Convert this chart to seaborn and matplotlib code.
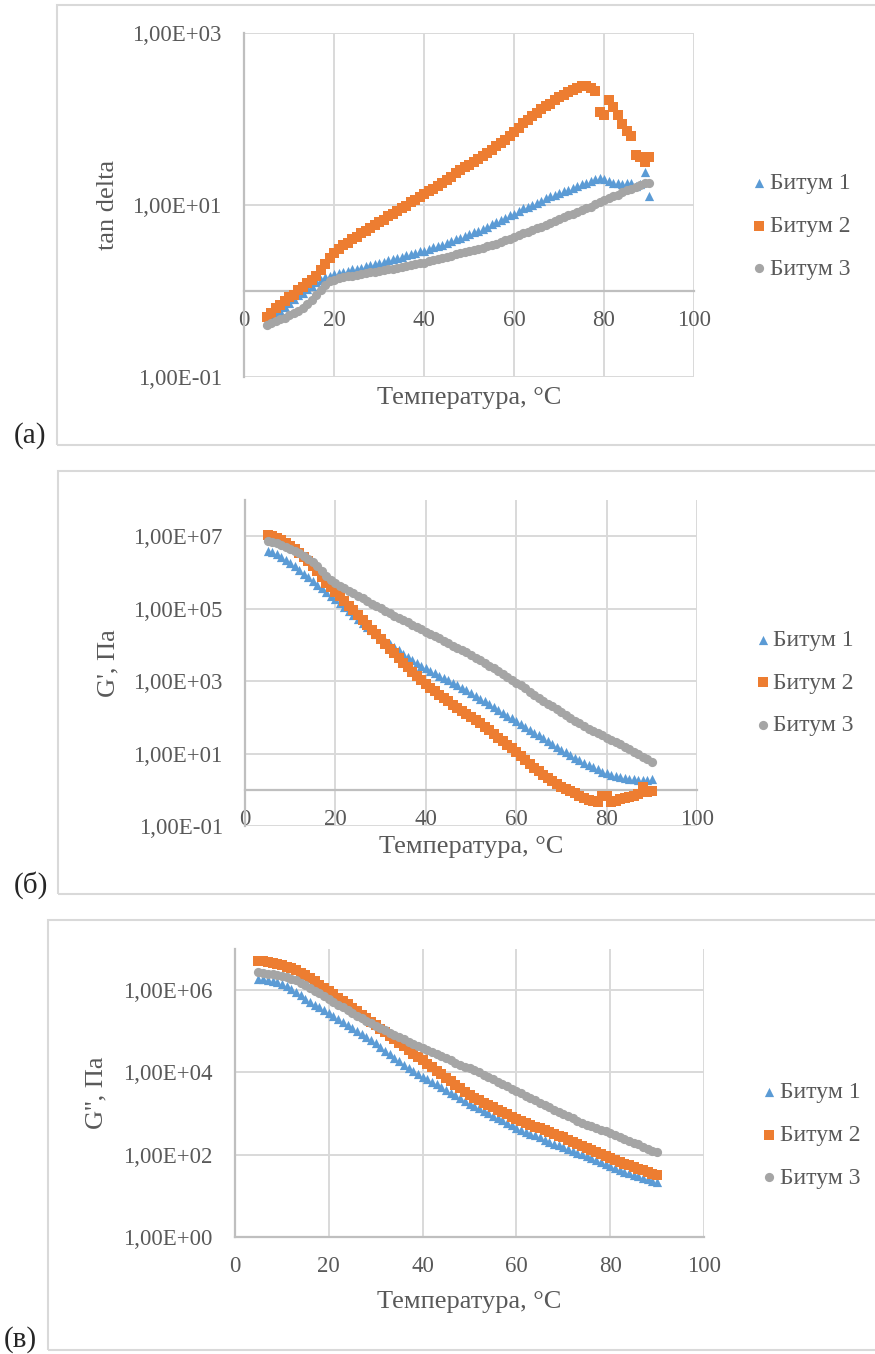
import matplotlib
matplotlib.use("Agg")
import matplotlib.pyplot as plt
import seaborn as sns
from matplotlib.patches import Rectangle
from matplotlib.ticker import FixedLocator, FuncFormatter, NullLocator

# measurement temperatures, °C (one point per degree)
temperature = list(range(5, 91))
series_names = ["Битум 1", "Битум 2", "Битум 3"]
series_colors = ["#5B9BD5", "#ED7D31", "#A5A5A5"]
series_markers = ["^", "s", "o"]
series_sizes = [44, 50, 44]

# (a) tan delta
tan_delta_1 = [0.44, 0.48, 0.52, 0.58, 0.65, 0.72, 0.81, 0.89, 0.95, 1.05,
               1.15, 1.26, 1.35, 1.45, 1.51, 1.58, 1.62, 1.66, 1.70, 1.78,
               1.82, 1.86, 1.95, 2.00, 2.04, 2.14, 2.19, 2.29, 2.34, 2.40,
               2.51, 2.63, 2.69, 2.75, 2.88, 2.95, 3.09, 3.24, 3.31, 3.47,
               3.63, 3.80, 3.98, 4.17, 4.37, 4.57, 4.79, 5.01, 5.25, 5.62,
               6.03, 6.31, 6.76, 7.08, 7.59, 7.94, 8.51, 9.12, 9.55, 10.0,
               10.5, 11.2, 12.0, 12.6, 13.2, 13.8, 14.5, 15.1, 15.8, 16.6,
               17.4, 18.2, 19.1, 20.0, 20.4, 20.0, 19.1, 18.2, 17.8, 17.4,
               18.2, 17.8, 16.6, 17.4, 24.5, 12.6]
tan_delta_2 = [0.50, 0.55, 0.63, 0.69, 0.76, 0.85, 0.91, 1.02, 1.12, 1.23,
               1.35, 1.51, 1.74, 2.04, 2.45, 2.75, 3.09, 3.39, 3.63, 3.98,
               4.27, 4.68, 5.01, 5.37, 5.89, 6.31, 6.76, 7.41, 7.94, 8.51,
               9.12, 9.77, 10.7, 11.5, 12.3, 13.5, 14.5, 15.5, 16.6, 18.2,
               19.5, 21.4, 23.4, 25.7, 27.5, 29.5, 31.6, 34.7, 37.2, 40.7,
               43.7, 47.9, 52.5, 57.5, 63.1, 70.8, 79.4, 89.1, 97.7, 107,
               117, 129, 141, 151, 166, 182, 191, 204, 219, 229,
               240, 240, 229, 214, 120, 110, 166, 138, 112, 87.1,
               72.4, 63.1, 38.0, 36.3, 31.6, 36.3]
tan_delta_3 = [0.40, 0.43, 0.45, 0.47, 0.49, 0.52, 0.55, 0.59, 0.63, 0.71,
               0.79, 0.89, 1.02, 1.17, 1.29, 1.35, 1.41, 1.45, 1.48, 1.51,
               1.55, 1.58, 1.62, 1.66, 1.66, 1.70, 1.74, 1.78, 1.82, 1.86,
               1.91, 1.95, 2.00, 2.04, 2.09, 2.14, 2.24, 2.29, 2.34, 2.45,
               2.51, 2.57, 2.69, 2.75, 2.82, 2.88, 3.02, 3.09, 3.16, 3.31,
               3.47, 3.55, 3.72, 3.89, 4.07, 4.27, 4.47, 4.68, 4.90, 5.13,
               5.37, 5.62, 5.89, 6.17, 6.46, 6.92, 7.24, 7.59, 7.94, 8.32,
               8.71, 9.12, 9.55, 10.2, 10.7, 11.5, 12.0, 12.6, 13.2, 14.1,
               14.8, 15.5, 16.2, 17.0, 17.8, 18.2]

# (б) G', Pa
storage_1 = [3.98e6, 3.63e6, 3.16e6, 2.69e6, 2.24e6, 1.82e6, 1.48e6, 1.17e6, 9.33e5, 7.41e5,
             5.89e5, 4.57e5, 3.63e5, 2.88e5, 2.29e5, 1.82e5, 1.45e5, 1.12e5, 8.71e4, 6.76e4,
             5.25e4, 4.07e4, 3.16e4, 2.51e4, 2.00e4, 1.58e4, 1.29e4, 1.05e4, 8.51e3, 7.08e3,
             5.75e3, 4.68e3, 3.89e3, 3.24e3, 2.69e3, 2.29e3, 1.95e3, 1.66e3, 1.41e3, 1.23e3,
             1.05e3, 912, 776, 661, 562, 479, 398, 331, 275, 229,
             195, 162, 135, 112, 93.3, 77.6, 64.6, 53.7, 45.7, 38.0,
             31.6, 26.3, 21.9, 18.2, 15.1, 12.9, 10.7, 9.12, 7.59, 6.46,
             5.50, 4.79, 4.17, 3.63, 3.16, 2.88, 2.63, 2.45, 2.29, 2.14,
             2.04, 1.95, 1.86, 1.82, 1.91, 2.00]
storage_2 = [1.10e7, 1.00e7, 8.91e6, 7.76e6, 6.61e6, 5.50e6, 4.47e6, 3.55e6, 2.75e6, 2.04e6,
             1.51e6, 1.07e6, 7.41e5, 5.25e5, 3.89e5, 2.95e5, 2.19e5, 1.62e5, 1.20e5, 8.91e4,
             6.61e4, 4.79e4, 3.55e4, 2.63e4, 1.95e4, 1.45e4, 1.07e4, 7.94e3, 5.89e3, 4.37e3,
             3.24e3, 2.40e3, 1.78e3, 1.35e3, 1.05e3, 832, 661, 525, 417, 339,
             275, 224, 182, 151, 126, 105, 85.1, 69.2, 55.0, 43.7,
             34.7, 27.5, 21.9, 17.4, 13.8, 11.0, 8.51, 6.61, 5.13, 4.07,
             3.24, 2.63, 2.14, 1.78, 1.48, 1.23, 1.05, 0.91, 0.79, 0.69,
             0.60, 0.52, 0.48, 0.46, 0.66, 0.66, 0.46, 0.49, 0.54, 0.59,
             0.63, 0.69, 0.76, 1.20, 0.87, 0.93]
storage_3 = [7.59e6, 6.92e6, 6.31e6, 5.62e6, 5.01e6, 4.47e6, 3.89e6, 3.39e6, 2.88e6, 2.40e6,
             1.95e6, 1.51e6, 1.12e6, 7.94e5, 6.03e5, 5.01e5, 4.27e5, 3.63e5, 3.09e5, 2.63e5,
             2.24e5, 1.91e5, 1.62e5, 1.38e5, 1.17e5, 1.02e5, 8.71e4, 7.59e4, 6.46e4, 5.62e4,
             4.79e4, 4.17e4, 3.63e4, 3.09e4, 2.69e4, 2.34e4, 2.00e4, 1.74e4, 1.51e4, 1.29e4,
             1.12e4, 9.55e3, 8.32e3, 7.24e3, 6.17e3, 5.25e3, 4.37e3, 3.72e3, 3.16e3, 2.63e3,
             2.24e3, 1.86e3, 1.55e3, 1.29e3, 1.07e3, 912, 759, 631, 513, 417,
             347, 288, 240, 200, 166, 138, 115, 95.5, 79.4, 67.6,
             57.5, 49.0, 41.7, 36.3, 31.6, 27.5, 24.0, 20.9, 17.8, 15.1,
             13.2, 11.2, 9.55, 8.13, 6.92, 6.03]

# (в) G'', Pa
loss_1 = [1.86e6, 1.82e6, 1.78e6, 1.70e6, 1.62e6, 1.45e6, 1.26e6, 1.07e6, 8.91e5, 7.41e5,
          6.17e5, 5.25e5, 4.47e5, 3.80e5, 3.24e5, 2.75e5, 2.34e5, 2.00e5, 1.66e5, 1.41e5,
          1.20e5, 1.02e5, 8.71e4, 7.41e4, 6.17e4, 5.13e4, 4.17e4, 3.39e4, 2.82e4, 2.29e4,
          1.91e4, 1.55e4, 1.29e4, 1.07e4, 9.12e3, 7.76e3, 6.76e3, 5.89e3, 5.13e3, 4.47e3,
          3.80e3, 3.24e3, 2.75e3, 2.34e3, 2.00e3, 1.74e3, 1.55e3, 1.35e3, 1.17e3, 1.02e3,
          891, 794, 692, 603, 525, 457, 407, 363, 324, 295,
          263, 234, 209, 186, 170, 151, 138, 123, 112, 102,
          93.3, 83.2, 74.1, 66.1, 58.9, 52.5, 46.8, 42.7, 38.9, 35.5,
          32.4, 30.2, 27.5, 25.7, 23.4, 21.9]
loss_2 = [5.13e6, 5.01e6, 4.79e6, 4.57e6, 4.37e6, 4.07e6, 3.72e6, 3.39e6, 3.02e6, 2.63e6,
          2.34e6, 2.00e6, 1.66e6, 1.35e6, 1.15e6, 9.55e5, 7.94e5, 6.61e5, 5.50e5, 4.57e5,
          3.72e5, 3.09e5, 2.51e5, 2.09e5, 1.70e5, 1.41e5, 1.15e5, 9.55e4, 7.76e4, 6.46e4,
          5.25e4, 4.37e4, 3.55e4, 2.88e4, 2.40e4, 1.95e4, 1.58e4, 1.32e4, 1.07e4, 8.91e3,
          7.24e3, 6.03e3, 4.90e3, 4.07e3, 3.31e3, 2.75e3, 2.40e3, 2.09e3, 1.82e3, 1.58e3,
          1.41e3, 1.23e3, 1.07e3, 955, 832, 741, 676, 603, 537, 479,
          437, 389, 355, 316, 288, 263, 234, 209, 186, 166,
          148, 132, 117, 105, 93.3, 83.2, 74.1, 66.1, 60.3, 55.0,
          50.1, 45.7, 41.7, 38.0, 34.7, 32.4]
loss_3 = [2.69e6, 2.57e6, 2.51e6, 2.40e6, 2.34e6, 2.24e6, 2.09e6, 1.91e6, 1.74e6, 1.51e6,
          1.32e6, 1.15e6, 9.77e5, 8.51e5, 7.24e5, 6.17e5, 5.25e5, 4.47e5, 3.80e5, 3.24e5,
          2.75e5, 2.40e5, 2.09e5, 1.82e5, 1.58e5, 1.38e5, 1.20e5, 1.07e5, 9.33e4, 8.32e4,
          7.24e4, 6.46e4, 5.62e4, 5.01e4, 4.37e4, 3.89e4, 3.47e4, 3.09e4, 2.82e4, 2.51e4,
          2.24e4, 1.95e4, 1.74e4, 1.55e4, 1.38e4, 1.29e4, 1.12e4, 1.00e4, 8.71e3, 7.76e3,
          6.76e3, 5.89e3, 5.25e3, 4.57e3, 3.98e3, 3.55e3, 3.09e3, 2.69e3, 2.34e3, 2.09e3,
          1.82e3, 1.58e3, 1.41e3, 1.23e3, 1.10e3, 977, 871, 776, 676, 603,
          537, 490, 447, 407, 372, 339, 302, 269, 245, 219,
          195, 178, 158, 141, 126, 115]

x_ticks = [0, 20, 40, 60, 80, 100]

W, H = 875, 1354
GRID = "#d9d9d9"
AXIS = "#bfbfbf"
TEXT = "#595959"

sns.set_style("white")
plt.rcParams["font.family"] = ["Liberation Serif", "DejaVu Serif"]


def px_rect(left, top, right, bottom):
    return [left / W, 1 - bottom / H, (right - left) / W, (bottom - top) / H]


def sci_comma(v, _pos):
    return f"{v:.2E}".replace(".", ",")


panels = [
    dict(ax_px=(244, 33, 694, 377), frame_px=(57, 5, 885, 445),
         series=[tan_delta_1, tan_delta_2, tan_delta_3],
         ylim=(0.1, 1e3), yticks=[0.1, 10, 1e3], ylabel="tan delta",
         ylabel_x=-0.302, xlabel_y=-0.061, legend_xy=(1.132, 0.439),
         tag="(a)", tag_px=(14, 436)),
    dict(ax_px=(245, 500, 697, 826), frame_px=(58, 471, 885, 894),
         series=[storage_1, storage_2, storage_3],
         ylim=(0.1, 1e8), yticks=[0.1, 10, 1e3, 1e5, 1e7], ylabel="G', Па",
         ylabel_x=-0.303, xlabel_y=-0.064, legend_xy=(1.132, 0.439),
         tag="(б)", tag_px=(14, 885)),
    dict(ax_px=(235, 949, 704, 1237), frame_px=(48, 920, 885, 1350),
         series=[loss_1, loss_2, loss_3],
         ylim=(1, 1e7), yticks=[1, 1e2, 1e4, 1e6], ylabel="G'', Па",
         ylabel_x=-0.295, xlabel_y=-0.226, legend_xy=(1.126, 0.354),
         tag="(в)", tag_px=(4, 1340)),
]

fig = plt.figure(figsize=(W / 100, H / 100), dpi=100)

for p in panels:
    fl, ft, fr, fb = p["frame_px"]
    fig.patches.append(Rectangle((fl / W, 1 - fb / H), (fr - fl) / W, (fb - ft) / H,
                                 transform=fig.transFigure, fill=False,
                                 edgecolor=GRID, linewidth=1.5))

    ax = fig.add_axes(px_rect(*p["ax_px"]))
    ax.set_yscale("log")
    ax.set_xlim(0, 100)
    ax.set_ylim(*p["ylim"])
    ax.xaxis.set_major_locator(FixedLocator(x_ticks))
    ax.yaxis.set_major_locator(FixedLocator(p["yticks"]))
    ax.yaxis.set_minor_locator(NullLocator())
    ax.yaxis.set_major_formatter(FuncFormatter(sci_comma))
    ax.set_axisbelow(True)
    ax.grid(True, color=GRID, linewidth=1.4)

    for name, vals, col, mk, sz in zip(series_names, p["series"], series_colors,
                                       series_markers, series_sizes):
        sns.scatterplot(x=temperature, y=vals, ax=ax, marker=mk, s=sz, color=col,
                        linewidth=0, label=name, zorder=3)

    for side in ("top", "right"):
        ax.spines[side].set_visible(False)
    ax.spines["left"].set_color(AXIS)
    ax.spines["left"].set_linewidth(1.6)
    ax.spines["bottom"].set_color(AXIS)
    ax.spines["bottom"].set_linewidth(1.6)
    ax.spines["bottom"].set_position(("data", 1))
    ax.spines["bottom"].set_zorder(2.5)

    ax.tick_params(axis="both", length=0, labelsize=16.5, labelcolor=TEXT)
    ax.tick_params(axis="x", pad=14)
    ax.tick_params(axis="y", pad=16)

    ax.set_xlabel("Температура, °C", fontsize=19, color=TEXT, va="center")
    ax.xaxis.set_label_coords(0.5, p["xlabel_y"])
    ax.set_ylabel(p["ylabel"], fontsize=19, color=TEXT, va="center")
    ax.yaxis.set_label_coords(p["ylabel_x"], 0.5)

    ax.legend(loc="center left", bbox_to_anchor=p["legend_xy"], frameon=False,
              fontsize=17, labelcolor=TEXT, handlelength=0.5, handletextpad=0.2,
              borderpad=0, borderaxespad=0, labelspacing=0.9)

    tx, ty = p["tag_px"]
    fig.text(tx / W, 1 - ty / H, p["tag"], fontsize=21, ha="left", va="center")

fig.savefig("out.png", dpi=100)
